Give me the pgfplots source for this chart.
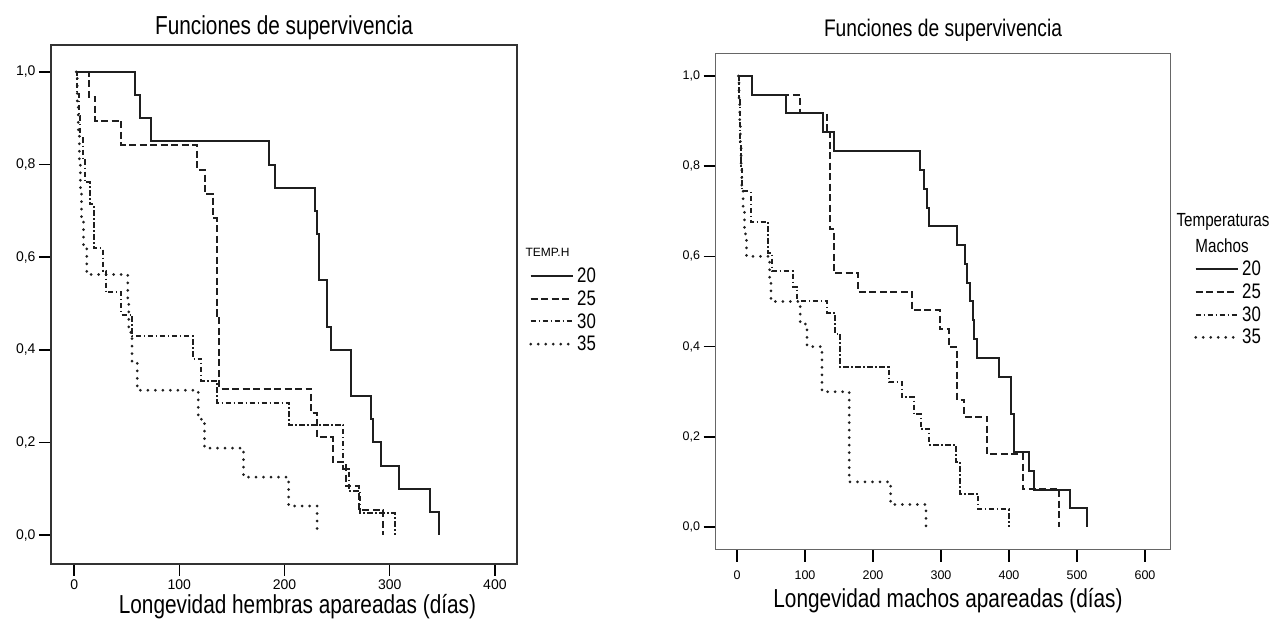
\documentclass[border=0pt]{standalone}
\usepackage{fontspec}
\setmainfont{Liberation Sans}
\newfontfamily\cond{Liberation Sans}[FakeStretch=0.8]
\usepackage{pgfplots}
\pgfplotsset{compat=1.18}

\pgfplotsset{
  km/.style={const plot, mark=none, color=black!88},
  t20/.style={km, line width=2pt},
  t25/.style={km, line width=2pt, dash pattern=on 7pt off 3.5pt},
  t30/.style={km, line width=2pt, dash pattern=on 5.5pt off 2.5pt on 1.5pt off 2.5pt},
  t35/.style={km, line width=3pt, line cap=round, dash pattern=on 0pt off 7.5pt},
  surv/.style={
    scale only axis,
    axis line style={black!80, line width=1.2pt},
    tick style={black, line width=1.5pt},
    tick align=outside,
    major tick length=12pt,
    xtick pos=bottom, ytick pos=left,
    ytick={0,0.2,0.4,0.6,0.8,1},
    yticklabels={{0,0},{0,2},{0,4},{0,6},{0,8},{1,0}},
    legend cell align=left,
    legend image code/.code={\draw[##1] (0pt,0pt) -- (42pt,0pt);},
  },
}

\begin{document}
\begin{tikzpicture}
\path[use as bounding box] (0,0) rectangle (1276pt,628pt);

% hembras
\begin{axis}[surv, at={(51pt,64pt)}, anchor=south west,
  width=466pt, height=519pt,
  xmin=-22, xmax=421, ymin=-0.0626, ymax=1.0583,
  xtick={0,100,200,300,400}, xticklabels={0,100,200,300,400},
  ticklabel style={font=\fontsize{14}{14}\selectfont},
  legend style={at={(1.0258,0.5771)}, anchor=north west, draw=none, fill=none,
    inner sep=0pt, row sep=0pt,
    nodes={inner sep=0pt, minimum height=22.7pt, font=\cond\fontsize{21}{21}\selectfont},
    /tikz/every odd column/.append style={column sep=3pt}},
]
\addplot[t20] coordinates {(2,1.0)(58,0.95)(63,0.90)(73,0.85)(185,0.80)(191,0.75)(229,0.70)(231,0.65)(233,0.55)(240,0.45)(244,0.40)(263,0.30)(282,0.25)(284,0.20)(292,0.15)(309,0.10)(338,0.05)(347,0)};
\addplot[t25] coordinates {(2,1.0)(14,0.947)(20,0.895)(45,0.842)(117,0.789)(124,0.737)(132,0.684)(136,0.474)(138,0.316)(225,0.263)(231,0.211)(246,0.158)(258,0.105)(271,0.053)(294,0)};
\addplot[t30] coordinates {(2,1.0)(3,0.952)(5,0.905)(6,0.857)(8,0.810)(10,0.762)(15,0.714)(19,0.619)(27,0.571)(30,0.524)(45,0.476)(55,0.429)(113,0.381)(121,0.333)(136,0.286)(204,0.238)(256,0.143)(261,0.095)(272,0.048)(305,0)};
\addplot[t35] coordinates {(2,1.0)(3,0.9375)(4,0.875)(5,0.8125)(6,0.75)(7,0.6875)(9,0.625)(12,0.5625)(51,0.5)(52,0.4375)(55,0.375)(60,0.3125)(118,0.25)(124,0.1875)(161,0.125)(204,0.0625)(231,0)};
\legend{20,25,30,35}
\end{axis}

% machos
\begin{axis}[surv, at={(715.5pt,78pt)}, anchor=south west,
  width=454.5pt, height=496pt,
  axis line style={black!60, line width=1pt},
  xmin=-31.6, xmax=636.8, ymin=-0.051, ymax=1.0488,
  xtick={0,100,200,300,400,500,600}, xticklabels={0,100,200,300,400,500,600},
  ticklabel style={font=\fontsize{12.5}{12.5}\selectfont},
  xticklabel style={yshift=-5pt},
  legend style={at={(1.0528,0.5894)}, anchor=north west, draw=none, fill=none,
    inner sep=0pt, row sep=0pt,
    nodes={inner sep=0pt, minimum height=22.7pt, font=\cond\fontsize{21}{21}\selectfont},
    /tikz/every odd column/.append style={column sep=3pt}},
]
\addplot[t20] coordinates {(2,1.0)(22,0.958)(72,0.917)(126,0.875)(143,0.833)(269,0.792)(275,0.750)(279,0.708)(283,0.667)(324,0.625)(335,0.583)(338,0.542)(343,0.5)(347,0.458)(349,0.417)(353,0.375)(386,0.333)(403,0.25)(408,0.167)(429,0.125)(437,0.083)(489,0.042)(515,0)};
\addplot[t25] coordinates {(2,1.0)(22,0.958)(93,0.917)(132,0.875)(137,0.66)(142,0.5625)(178,0.522)(257,0.481)(298,0.438)(312,0.398)(324,0.282)(334,0.245)(368,0.162)(420,0.084)(474,0)};
\addplot[t30] coordinates {(2,1.0)(3,0.95)(4,0.90)(5,0.85)(6,0.80)(8,0.744)(20,0.677)(46,0.607)(51,0.568)(82,0.533)(88,0.5)(133,0.474)(144,0.429)(152,0.355)(223,0.322)(242,0.288)(260,0.25)(270,0.217)(283,0.182)(322,0.145)(328,0.073)(355,0.039)(400,0)};
\addplot[t35] coordinates {(2,1.0)(3,0.95)(4,0.90)(5,0.85)(6,0.80)(7,0.75)(9,0.70)(11,0.65)(14,0.60)(48,0.55)(50,0.5)(93,0.45)(103,0.40)(125,0.30)(165,0.10)(226,0.05)(278,0)};
\legend{20,25,30,35}
\end{axis}

\node[font=\cond\fontsize{26}{26}\selectfont] at (284pt,600pt) {Funciones de supervivencia};
\node[font=\cond\fontsize{24}{24}\selectfont] at (943pt,598pt) {Funciones de supervivencia};
\node[font=\cond\fontsize{26}{26}\selectfont] at (297.5pt,21pt) {Longevidad hembras apareadas (días)};
\node[font=\cond\fontsize{26}{26}\selectfont] at (948pt,27pt) {Longevidad machos apareadas (días)};
\node[font=\fontsize{12}{12}\selectfont] at (547.5pt,376pt) {TEMP.H};
\node[font=\cond\fontsize{19}{19}\selectfont] at (1223pt,406pt) {Temperaturas};
\node[font=\cond\fontsize{19}{19}\selectfont] at (1222pt,382pt) {Machos};
\end{tikzpicture}
\end{document}
